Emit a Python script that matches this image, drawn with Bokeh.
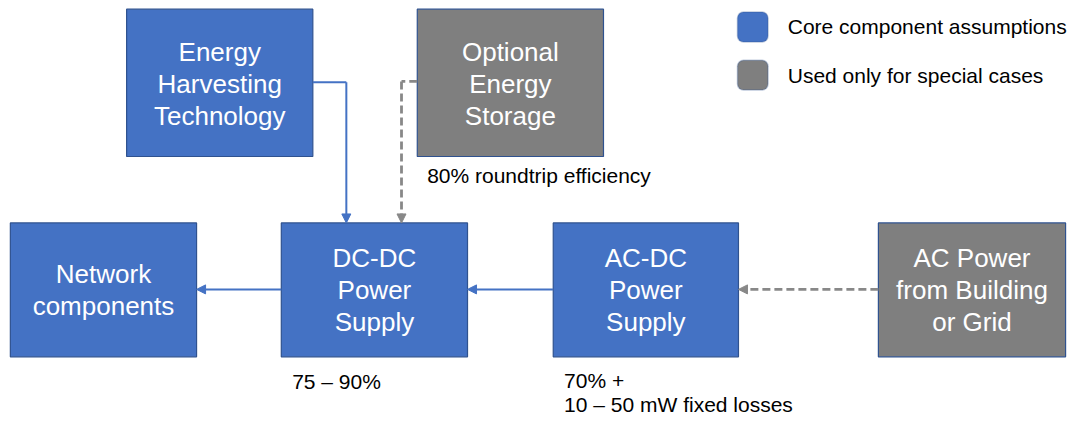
from bokeh.plotting import figure
from bokeh.models import Range1d, Arrow, NormalHead, BoxAnnotation, ColumnDataSource
from bokeh.core.properties import value
from bokeh.embed import file_html
from bokeh.resources import INLINE

# ---------------- data ----------------
box_labels = ["Energy\nHarvesting\nTechnology", "Optional\nEnergy\nStorage",
              "Network\ncomponents", "DC-DC\nPower\nSupply",
              "AC-DC\nPower\nSupply", "AC Power\nfrom Building\nor Grid"]
box_kind = ["core", "special", "core", "core", "core", "special"]

legend_labels = ["Core component assumptions", "Used only for special cases"]
legend_kind = ["core", "special"]

note_labels = ["80% roundtrip efficiency", "75 \u2013 90%", "70% +\n10 \u2013 50 mW fixed losses"]

# links: (from box index, to box index, kind)
links = [(0, 3, "core"), (1, 3, "special"), (3, 2, "core"), (4, 3, "core"), (5, 4, "special")]

# ---------------- layout (reference pixel space) ----------------
box_left = [128, 423, 10, 285, 561, 891]
box_right = [317, 612, 199, 474, 749, 1081]
box_top = [9, 9, 231, 231, 231, 231]
box_bottom = [162, 162, 370, 370, 370, 370]
box_text_y = [87, 87, 301, 301, 301, 301]

note_x = [433, 296, 572]
note_y = [182, 396, 407]

legend_x0, legend_size, legend_text_x = 748, 31, 799
legend_top = [12, 62]

elbow_x = {0: 351, 1: 407}
elbow_y = {0: 85, 1: 84}
row_y = 300

colors = {"core": "#4472C4", "special": "#7F7F7F"}
line_colors = {"core": "#4472C4", "special": "#888888"}
border = "#2F528F"
FONT = value("Liberation Sans")

# ---------------- figure ----------------
p = figure(width=1071, height=416, output_backend="svg", toolbar_location=None,
           x_range=Range1d(0, 1087), y_range=Range1d(432, 0), min_border=0)
p.axis.visible = False
p.grid.visible = False
p.outline_line_color = None
p.background_fill_color = "white"

src = ColumnDataSource(dict(
    left=box_left, right=box_right, top=box_top, bottom=box_bottom,
    fill=[colors[k] for k in box_kind], label=box_labels,
    cx=[(l + r) / 2 for l, r in zip(box_left, box_right)], cy=box_text_y))
p.quad(left="left", right="right", top="top", bottom="bottom", source=src,
       fill_color="fill", line_color=border, line_width=1.2)
p.text(x="cx", y="cy", text="label", source=src, text_color="white",
       text_font=FONT, text_font_size="26px", text_align="center",
       text_baseline="middle", text_line_height=1.07)

# connectors
for a, b, kind in links:
    col = line_colors[kind]
    dash = "solid" if kind == "core" else "8 4"
    lw = 2 if kind == "core" else 2.8
    if a in elbow_x:
        ex, ey = elbow_x[a], elbow_y[a]
        sx = box_right[a] if ex > box_right[a] else box_left[a]
        p.line([sx, ex], [ey, ey], line_color=col, line_width=lw, line_dash=dash)
        xs, ys, xe, ye = ex, ey, ex, box_top[b]
    else:
        if box_left[a] > box_right[b]:
            xs, xe = box_left[a], box_right[b]
        else:
            xs, xe = box_right[a], box_left[b]
        ys = ye = row_y
    p.add_layout(Arrow(end=NormalHead(size=9, fill_color=col, line_color=col, line_width=1),
                       x_start=xs, y_start=ys, x_end=xe, y_end=ye,
                       line_color=col, line_width=lw, line_dash=dash))

# notes
p.text(x=note_x, y=note_y, text=note_labels, text_color="black", text_font=FONT,
       text_font_size="21px", text_align="left", text_baseline="middle",
       text_line_height=1.02)

# legend
for t, kind, lab in zip(legend_top, legend_kind, legend_labels):
    p.add_layout(BoxAnnotation(left=legend_x0, right=legend_x0 + legend_size,
                               top=t, bottom=t + legend_size, border_radius=6,
                               fill_color=colors[kind], fill_alpha=1,
                               line_color=border, line_width=1.5, level="overlay"))
p.text(x=[legend_text_x] * 2, y=[t + legend_size / 2 for t in legend_top],
       text=legend_labels, text_color="black", text_font=FONT,
       text_font_size="21px", text_align="left", text_baseline="middle")

open("out.html", "w").write(file_html(p, INLINE))
